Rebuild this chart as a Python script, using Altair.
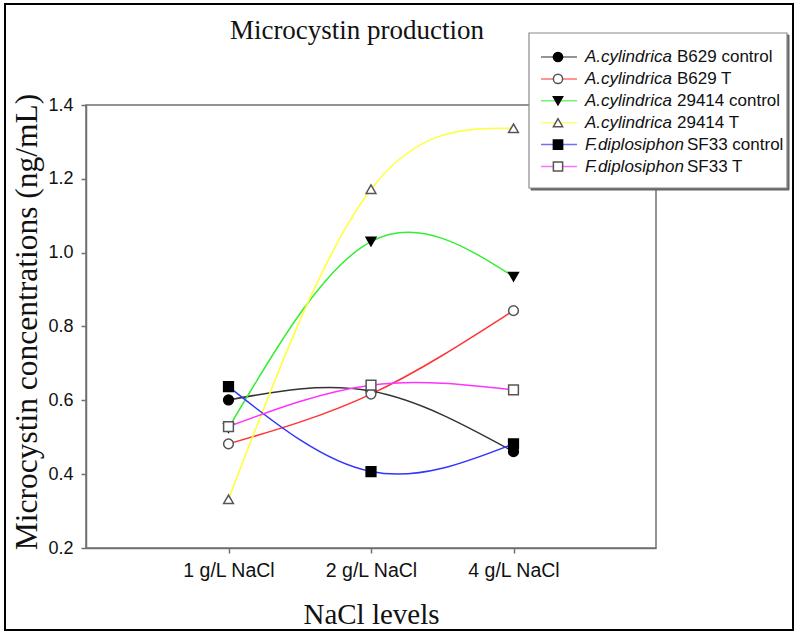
import altair as alt
import pandas as pd

# ---------------- data ----------------
levels = ["1 g/L NaCl", "2 g/L NaCl", "4 g/L NaCl"]
series = [
    "A.cylindrica B629 control",
    "A.cylindrica B629 T",
    "A.cylindrica 29414 control",
    "A.cylindrica 29414 T",
    "F.diplosiphon SF33 control",
    "F.diplosiphon SF33 T",
]
genus = ["A.cylindrica", "A.cylindrica", "A.cylindrica", "A.cylindrica",
         "F.diplosiphon", "F.diplosiphon"]
strain = ["B629 control", "B629 T", "29414 control", "29414 T",
          "SF33 control", "SF33 T"]

b629_control = [0.601, 0.625, 0.461]
b629_t = [0.482, 0.617, 0.843]
c29414_control = [0.525, 1.030, 0.935]
c29414_t = [0.332, 1.172, 1.337]
sf33_control = [0.637, 0.407, 0.482]
sf33_t = [0.529, 0.641, 0.628]
values = [b629_control, b629_t, c29414_control, c29414_t, sf33_control, sf33_t]

y_ticks = [0.2, 0.4, 0.6, 0.8, 1.0, 1.2, 1.4]
title_text = "Microcystin production"
x_title = "NaCl levels"
y_title = "Microcystin concentrations (ng/mL)"

# ---------------- styles ----------------
line_colors = ["#333333", "#ff3333", "#33ee33", "#ffff33", "#3333ff", "#ff33ff"]
shapes = ["circle", "circle", "triangle-down", "triangle-up", "square", "square"]
fills = ["#000000", "#ffffff", "#000000", "#ffffff", "#000000", "#ffffff"]
strokes = ["#000000", "#555555", "#000000", "#555555", "#000000", "#555555"]

SERIF = "Liberation Serif"
SANS = "Liberation Sans"
W, H = 570, 443
LEG_FS = 17

rows = []
for s, vals in zip(series, values):
    for lvl, v in zip(levels, vals):
        rows.append({"series": s, "level": lvl, "value": v})
df = pd.DataFrame(rows)

leg_df = pd.DataFrame({"series": series, "genus": genus, "strain": strain,
                       "row": list(range(len(series)))})

# x offset of the non-italic part of each legend label (layout, in px)
strain_dx = {"A.cylindrica": 92, "F.diplosiphon": 102}

color_scale = alt.Scale(domain=series, range=line_colors)
shape_scale = alt.Scale(domain=series, range=shapes)
fill_scale = alt.Scale(domain=series, range=fills)
stroke_scale = alt.Scale(domain=series, range=strokes)

x_enc = alt.X("level:O", sort=levels,
              scale=alt.Scale(domain=levels, padding=1),
              axis=alt.Axis(title=x_title, labelAngle=0, titleY=66,
                            titleBaseline="middle", labelFontSize=19.5))
y_enc = alt.Y("value:Q",
              scale=alt.Scale(domain=[0.2, 1.4], nice=False, zero=False),
              axis=alt.Axis(title=y_title, values=y_ticks, format=".1f",
                            titleX=-59, titleY=H / 2 - 5, titleAlign="center",
                            titleBaseline="middle", titleAngle=270))

one = pd.DataFrame({"t": [title_text]})

outer = alt.Chart(one).mark_rect(fillOpacity=0, stroke="#000000", strokeWidth=2).encode(
    x=alt.value(-81), x2=alt.value(707), y=alt.value(-101), y2=alt.value(525))

frame = alt.Chart(one).mark_rect(fillOpacity=0, stroke="#707070", strokeWidth=1.5).encode(
    x=alt.value(0), x2=alt.value(W), y=alt.value(0), y2=alt.value(H))

lines = alt.Chart(df).mark_line(interpolate="natural", strokeWidth=1.5).encode(
    x=x_enc, y=y_enc,
    color=alt.Color("series:N", scale=color_scale, legend=None),
    detail="series:N")

points = alt.Chart(df).mark_point(size=95, strokeWidth=1.5, opacity=1).encode(
    x=x_enc, y=y_enc,
    shape=alt.Shape("series:N", scale=shape_scale, legend=None),
    fill=alt.Fill("series:N", scale=fill_scale, legend=None),
    stroke=alt.Stroke("series:N", scale=stroke_scale, legend=None))

# legend (custom, to allow italic genus names)
LX0, LX1, LY0, LY1 = 443, 701, -72, 83
ROW0, DROW = -48, 21.9
SYM_X0, SYM_X1, SYM_XC, TXT_X = 455, 491, 472, 499

leg_base = alt.Chart(leg_df).transform_calculate(ly=f"{ROW0} + datum.row * {DROW}")

leg_shadow = alt.Chart(one).mark_rect(fill="#666666", stroke="#666666").encode(
    x=alt.value(LX0 + 2), x2=alt.value(LX1 + 2), y=alt.value(LY0 + 2), y2=alt.value(LY1 + 2))
leg_box = alt.Chart(one).mark_rect(fill="#ffffff", stroke="#8a8a8a", strokeWidth=1.2).encode(
    x=alt.value(LX0), x2=alt.value(LX1), y=alt.value(LY0), y2=alt.value(LY1))

leg_lines = leg_base.mark_rule(strokeWidth=1.5, opacity=0.7).encode(
    x=alt.value(SYM_X0), x2=alt.value(SYM_X1),
    y=alt.Y("ly:Q", scale=None, axis=None),
    color=alt.Color("series:N", scale=color_scale, legend=None))

leg_pts = leg_base.mark_point(size=85, strokeWidth=1.5, opacity=1).encode(
    x=alt.value(SYM_XC),
    y=alt.Y("ly:Q", scale=None, axis=None),
    shape=alt.Shape("series:N", scale=shape_scale, legend=None),
    fill=alt.Fill("series:N", scale=fill_scale, legend=None),
    stroke=alt.Stroke("series:N", scale=stroke_scale, legend=None))

leg_italic = leg_base.mark_text(align="left", baseline="middle", font=SANS,
                                fontSize=LEG_FS, fontStyle="italic", color="#111111").encode(
    x=alt.value(TXT_X), y=alt.Y("ly:Q", scale=None, axis=None), text="genus:N")

leg_normal_layers = []
for g in ["A.cylindrica", "F.diplosiphon"]:
    leg_normal_layers.append(
        leg_base.transform_filter(alt.datum.genus == g).mark_text(
            align="left", baseline="middle", font=SANS, fontSize=LEG_FS,
            color="#111111").encode(
            x=alt.value(TXT_X + strain_dx[g]),
            y=alt.Y("ly:Q", scale=None, axis=None), text="strain:N"))

title = alt.Chart(one).mark_text(font=SERIF, fontSize=27, baseline="middle",
                                 align="center", color="#111111").encode(
    x=alt.value(271), y=alt.value(-74), text="t:N")

chart = alt.layer(
    outer, frame, lines, points, leg_shadow, leg_box, leg_lines, leg_pts,
    leg_italic, *leg_normal_layers, title
).properties(
    width=W, height=H,
    autosize=alt.AutoSizeParams(type="none"),
    padding={"left": 86, "top": 105, "right": 144, "bottom": 90},
).configure_view(strokeWidth=0).configure_axis(
    grid=False, domainColor="#707070", domainWidth=1.5,
    tickColor="#707070", tickWidth=1.5, tickSize=5,
    labelFont=SANS, labelFontSize=18, labelColor="#111111", labelPadding=8,
    titleFont=SERIF, titleFontWeight="normal", titleColor="#111111",
).configure_axisX(titleFontSize=29).configure_axisY(titleFontSize=31.5, labelPadding=8)

chart.save("out.html", embed_options={"renderer": "svg", "actions": False})
